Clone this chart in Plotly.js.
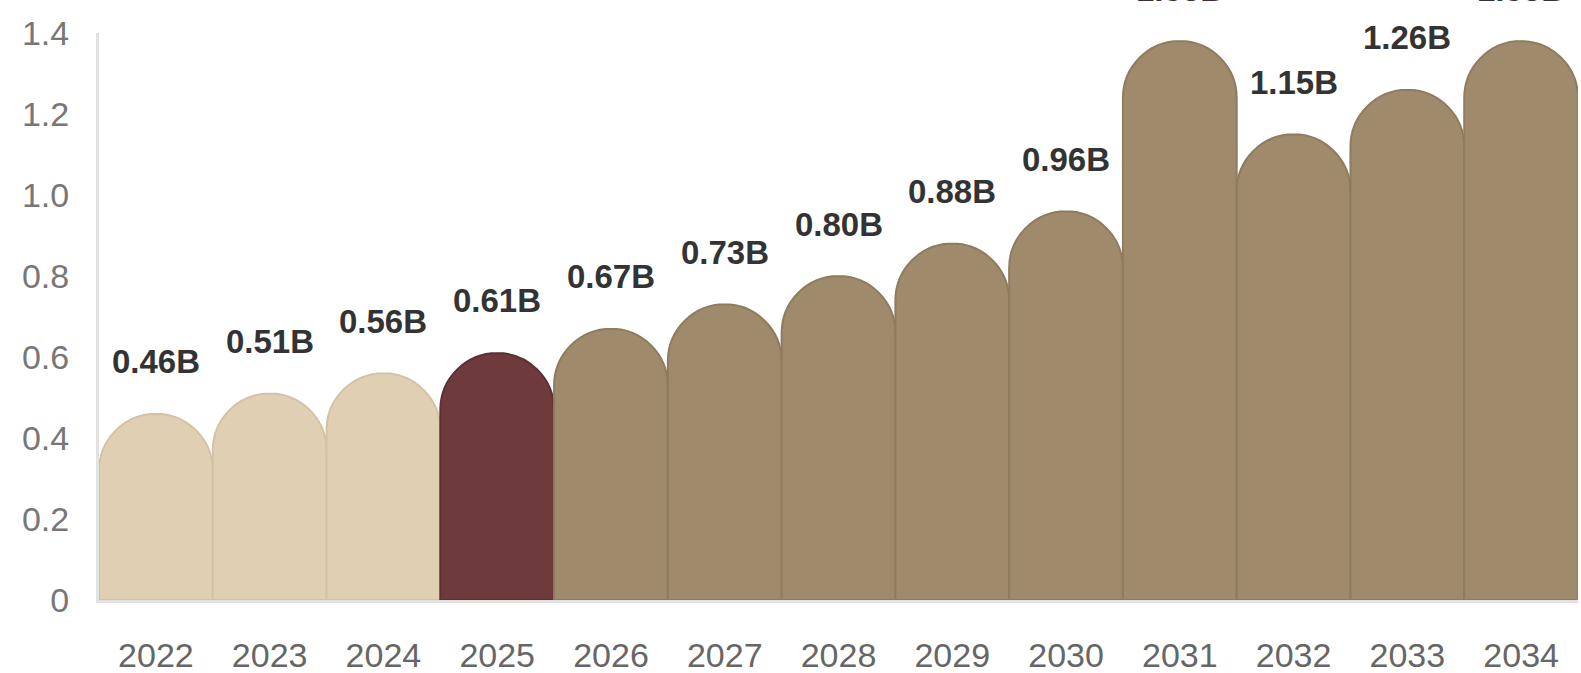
<!DOCTYPE html>
<html>
<head>
<meta charset="utf-8">
<script src="https://cdn.plot.ly/plotly-3.0.1.min.js"></script>
<style>html,body{margin:0;padding:0;background:#fff;overflow:hidden;}#chart{width:1581px;height:673px;}</style>
</head>
<body>
<div id="chart"></div>
<script>
const years = ['2022','2023','2024','2025','2026','2027','2028','2029','2030','2031','2032','2033','2034'];
const values = [0.46, 0.51, 0.56, 0.61, 0.67, 0.73, 0.80, 0.88, 0.96, 1.38, 1.15, 1.26, 1.38];
const labels = ['0.46B','0.51B','0.56B','0.61B','0.67B','0.73B','0.80B','0.88B','0.96B','1.38B','1.15B','1.26B','1.38B'];
const barColors = ['#E0CFB3','#E0CFB3','#E0CFB3','#6E3A3B','#A08A6C','#A08A6C','#A08A6C','#A08A6C','#A08A6C','#A08A6C','#A08A6C','#A08A6C','#A08A6C'];
const lineColors = ['#D3C2A6','#D3C2A6','#D3C2A6','#5E3031','#8F7B5E','#8F7B5E','#8F7B5E','#8F7B5E','#8F7B5E','#8F7B5E','#8F7B5E','#8F7B5E','#8F7B5E'];
const yTickVals = [0, 0.2, 0.4, 0.6, 0.8, 1.0, 1.2, 1.4];
const yTickText = ['0','0.2','0.4','0.6','0.8','1.0','1.2','1.4'];

const trace = {
  type: 'bar',
  x: years,
  y: values,
  marker: {color: barColors, line: {color: lineColors, width: 2}, cornerradius: '50%'},
  hoverinfo: 'x+y'
};

const annotations = years.map((yr, i) => ({
  x: i, y: values[i], xref: 'x', yref: 'y',
  text: labels[i], showarrow: false, yanchor: 'middle', yshift: 52,
  font: {family: 'Liberation Sans, Arial, sans-serif', size: 33, color: '#333333', weight: 'bold'}
}));

const layout = {
  width: 1581, height: 673,
  margin: {l: 99, r: 3, t: 33, b: 73},
  paper_bgcolor: '#ffffff', plot_bgcolor: '#ffffff',
  bargap: 0,
  showlegend: false,
  xaxis: {
    type: 'category',
    range: [-0.5, years.length - 0.5],
    showline: true, linecolor: '#e2e2e2', linewidth: 3,
    showgrid: false, zeroline: false, ticks: '',
    ticklabelstandoff: 23,
    tickfont: {family: 'Liberation Sans, Arial, sans-serif', size: 34, color: '#666666'}
  },
  yaxis: {
    range: [0, 1.4],
    tickvals: yTickVals, ticktext: yTickText,
    showline: true, linecolor: '#e2e2e2', linewidth: 3,
    showgrid: false, zeroline: false, ticks: '',
    ticklabelstandoff: 20,
    tickfont: {family: 'Liberation Sans, Arial, sans-serif', size: 34, color: '#777777'}
  },
  annotations: annotations
};

Plotly.newPlot('chart', [trace], layout, {displayModeBar: false, staticPlot: true});
</script>
</body>
</html>
